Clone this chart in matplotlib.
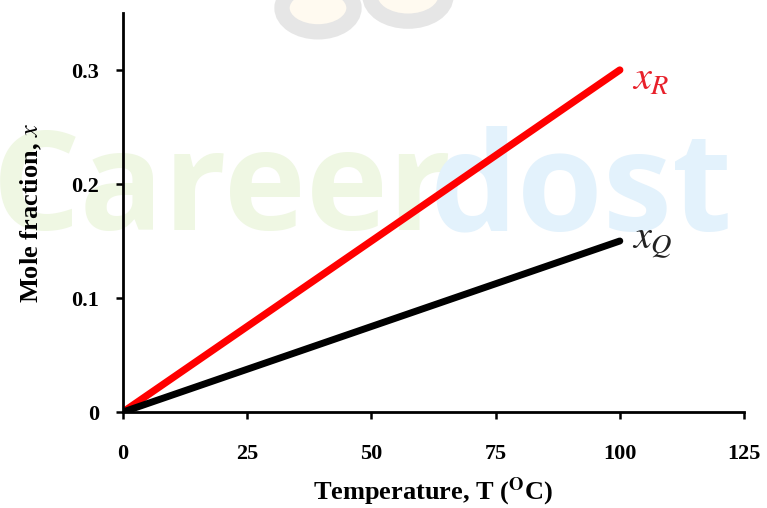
import matplotlib.pyplot as plt
from matplotlib.patches import Circle

# data
temps = [0, 100]
x_R = [0, 0.30]
x_Q = [0, 0.15]
x_ticks = [0, 25, 50, 75, 100, 125]
y_ticks = [0, 0.1, 0.2, 0.3]
y_ticklabels = ['0', '0.1', '0.2', '0.3']

plt.rcParams['font.family'] = ['Liberation Serif', 'DejaVu Serif']
plt.rcParams['mathtext.fontset'] = 'stix'

W, H = 767, 508
fig = plt.figure(figsize=(W / 100, H / 100), dpi=100)

# faint watermark (text + logo) behind the chart
fig.text(-0.01, 1 - 230 / H, 'Career', fontsize=100, color='#eff7e3', family='Open Sans',
         weight='bold', ha='left', va='baseline', zorder=-5)
fig.text(430 / W, 1 - 230 / H, 'dost', fontsize=100, color='#e3f2fc', family='Open Sans',
         weight='bold', ha='left', va='baseline', zorder=-5)
for cx, cy, r in [(318, 8, 36), (408, -4, 38)]:
    fig.add_artist(Circle((cx / W, 1 - cy / H), r / W, transform=fig.transFigure,
                          facecolor='#fffaf0', edgecolor='#e6e6e6', lw=11, zorder=-6))

ax = fig.add_axes([123 / W, 1 - 412 / H, (744 - 123) / W, (412 - 13) / H])
ax.patch.set_alpha(0)

ax.plot(temps, x_R, color='#ff0000', lw=5.2, solid_capstyle='round')
ax.plot(temps, x_Q, color='black', lw=5.0, solid_capstyle='round')

ax.text(102.5, 0.283, '$x_R$', color='#e8202a', fontsize=29, ha='left', va='baseline')
ax.text(102.5, 0.143, '$x_Q$', color='#222222', fontsize=29, ha='left', va='baseline')

ax.set_xlim(0, 125)
ax.set_ylim(0, 0.35)
ax.set_xticks(x_ticks)
ax.set_yticks(y_ticks)
ax.set_yticklabels(y_ticklabels)

for s in ['top', 'right']:
    ax.spines[s].set_visible(False)
for s in ['left', 'bottom']:
    ax.spines[s].set_linewidth(2.0)

ax.tick_params(axis='both', direction='out', length=5, width=1.8)
ax.tick_params(axis='x', pad=18)
ax.tick_params(axis='y', pad=12)
for lbl in ax.get_xticklabels() + ax.get_yticklabels():
    lbl.set_fontweight('bold')
    lbl.set_fontsize(16)

ax.set_xlabel('Temperature, T ($^{\\mathbf{O}}$C)', fontsize=19, fontweight='bold', labelpad=8)
ax.set_ylabel('Mole fraction, $x$', fontsize=19, fontweight='bold', labelpad=20)

fig.savefig('out.png', dpi=100)
